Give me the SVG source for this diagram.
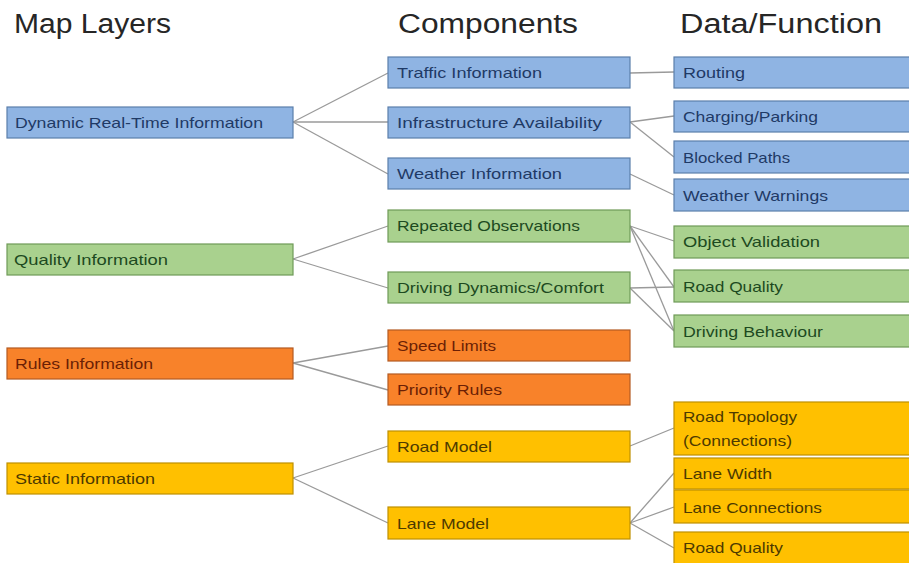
<svg xmlns="http://www.w3.org/2000/svg" width="909" height="563" viewBox="0 0 909 563">
  <style>
    .title { font-family: "Liberation Sans", Arial, sans-serif; font-size: 27px; fill: #262626; }
    .lbl { font-family: "Liberation Sans", Arial, sans-serif; font-size: 15px; }
    .blue rect { fill: #8fb4e3; stroke: #5b7fab; stroke-width: 1.2; }
    .blue text { fill: #1f3a66; }
    .green rect { fill: #a9d18e; stroke: #6f9a57; stroke-width: 1.2; }
    .green text { fill: #1d4a1f; }
    .orange rect { fill: #f8822a; stroke: #b45a22; stroke-width: 1.2; }
    .orange text { fill: #6b1f05; }
    .yellow rect { fill: #ffc000; stroke: #bf9000; stroke-width: 1.2; }
    .yellow text { fill: #4d3a00; }
    #connectors line { stroke: #9a9a9a; stroke-width: 1.3; }
  </style>

  <rect width="909" height="563" fill="#ffffff"/>

  <!-- column headings -->
  <text class="title" x="14" y="33" textLength="157" lengthAdjust="spacingAndGlyphs">Map Layers</text>
  <text class="title" x="398" y="33" textLength="180" lengthAdjust="spacingAndGlyphs">Components</text>
  <text class="title" x="680" y="33" textLength="202" lengthAdjust="spacingAndGlyphs">Data/Function</text>

  <!-- connectors -->
  <g id="connectors">
    <line x1="293" y1="122" x2="388" y2="73"/>
    <line x1="293" y1="122" x2="388" y2="122"/>
    <line x1="293" y1="122" x2="388" y2="174"/>
    <line x1="630" y1="73" x2="674" y2="72"/>
    <line x1="630" y1="122" x2="674" y2="116"/>
    <line x1="630" y1="122" x2="674" y2="157"/>
    <line x1="630" y1="174" x2="674" y2="195"/>
    <line x1="293" y1="259" x2="388" y2="226"/>
    <line x1="293" y1="259" x2="388" y2="288"/>
    <line x1="630" y1="226" x2="674" y2="241"/>
    <line x1="630" y1="226" x2="674" y2="287"/>
    <line x1="630" y1="226" x2="674" y2="331"/>
    <line x1="630" y1="288" x2="674" y2="287"/>
    <line x1="630" y1="288" x2="674" y2="331"/>
    <line x1="293" y1="363" x2="388" y2="346"/>
    <line x1="293" y1="363" x2="388" y2="390"/>
    <line x1="293" y1="478" x2="388" y2="446"/>
    <line x1="293" y1="478" x2="388" y2="523"/>
    <line x1="630" y1="446" x2="674" y2="428"/>
    <line x1="630" y1="523" x2="674" y2="473"/>
    <line x1="630" y1="523" x2="674" y2="507"/>
    <line x1="630" y1="523" x2="674" y2="548"/>
  </g>

  <!-- map layers -->
  <g id="dynamic" class="blue">
    <rect x="7" y="107" width="286" height="31"/>
    <text class="lbl" x="15" y="128" textLength="248" lengthAdjust="spacingAndGlyphs">Dynamic Real-Time Information</text>
  </g>
  <g id="quality" class="green">
    <rect x="7" y="244" width="286" height="31"/>
    <text class="lbl" x="14" y="265" textLength="154" lengthAdjust="spacingAndGlyphs">Quality Information</text>
  </g>
  <g id="rules" class="orange">
    <rect x="7" y="348" width="286" height="31"/>
    <text class="lbl" x="15" y="369" textLength="138" lengthAdjust="spacingAndGlyphs">Rules Information</text>
  </g>
  <g id="static" class="yellow">
    <rect x="7" y="463" width="286" height="31"/>
    <text class="lbl" x="15" y="484" textLength="140" lengthAdjust="spacingAndGlyphs">Static Information</text>
  </g>

  <!-- components -->
  <g id="traffic" class="blue">
    <rect x="388" y="57" width="242" height="31"/>
    <text class="lbl" x="397" y="78" textLength="145" lengthAdjust="spacingAndGlyphs">Traffic Information</text>
  </g>
  <g id="infrastructure" class="blue">
    <rect x="388" y="107" width="242" height="31"/>
    <text class="lbl" x="397" y="128" textLength="205" lengthAdjust="spacingAndGlyphs">Infrastructure Availability</text>
  </g>
  <g id="weather" class="blue">
    <rect x="388" y="158" width="242" height="31"/>
    <text class="lbl" x="397" y="179" textLength="165" lengthAdjust="spacingAndGlyphs">Weather Information</text>
  </g>
  <g id="repeated" class="green">
    <rect x="388" y="210" width="242" height="32"/>
    <text class="lbl" x="397" y="231" textLength="183" lengthAdjust="spacingAndGlyphs">Repeated Observations</text>
  </g>
  <g id="dynamics" class="green">
    <rect x="388" y="272" width="242" height="31"/>
    <text class="lbl" x="397" y="293" textLength="207" lengthAdjust="spacingAndGlyphs">Driving Dynamics/Comfort</text>
  </g>
  <g id="speed" class="orange">
    <rect x="388" y="330" width="242" height="31"/>
    <text class="lbl" x="397" y="351" textLength="99" lengthAdjust="spacingAndGlyphs">Speed Limits</text>
  </g>
  <g id="priority" class="orange">
    <rect x="388" y="374" width="242" height="31"/>
    <text class="lbl" x="397" y="395" textLength="105" lengthAdjust="spacingAndGlyphs">Priority Rules</text>
  </g>
  <g id="road-model" class="yellow">
    <rect x="388" y="431" width="242" height="31"/>
    <text class="lbl" x="397" y="452" textLength="95" lengthAdjust="spacingAndGlyphs">Road Model</text>
  </g>
  <g id="lane-model" class="yellow">
    <rect x="388" y="507" width="242" height="32"/>
    <text class="lbl" x="397" y="529" textLength="92" lengthAdjust="spacingAndGlyphs">Lane Model</text>
  </g>

  <!-- data / function -->
  <g id="routing" class="blue">
    <rect x="674" y="57" width="245" height="31"/>
    <text class="lbl" x="683" y="78" textLength="62" lengthAdjust="spacingAndGlyphs">Routing</text>
  </g>
  <g id="charging" class="blue">
    <rect x="674" y="101" width="245" height="31"/>
    <text class="lbl" x="683" y="122" textLength="135" lengthAdjust="spacingAndGlyphs">Charging/Parking</text>
  </g>
  <g id="blocked" class="blue">
    <rect x="674" y="141" width="245" height="32"/>
    <text class="lbl" x="683" y="163" textLength="107" lengthAdjust="spacingAndGlyphs">Blocked Paths</text>
  </g>
  <g id="warnings" class="blue">
    <rect x="674" y="179" width="245" height="32"/>
    <text class="lbl" x="683" y="201" textLength="145" lengthAdjust="spacingAndGlyphs">Weather Warnings</text>
  </g>
  <g id="validation" class="green">
    <rect x="674" y="226" width="245" height="32"/>
    <text class="lbl" x="683" y="247" textLength="137" lengthAdjust="spacingAndGlyphs">Object Validation</text>
  </g>
  <g id="road-quality" class="green">
    <rect x="674" y="270" width="245" height="32"/>
    <text class="lbl" x="683" y="292" textLength="100" lengthAdjust="spacingAndGlyphs">Road Quality</text>
  </g>
  <g id="behaviour" class="green">
    <rect x="674" y="315" width="245" height="32"/>
    <text class="lbl" x="683" y="337" textLength="140" lengthAdjust="spacingAndGlyphs">Driving Behaviour</text>
  </g>
  <g id="topology" class="yellow">
    <rect x="674" y="402" width="245" height="53"/>
    <text class="lbl" x="683" y="422" textLength="114" lengthAdjust="spacingAndGlyphs">Road Topology</text>
    <text class="lbl" x="683" y="446" textLength="109" lengthAdjust="spacingAndGlyphs">(Connections)</text>
  </g>
  <g id="lane-width" class="yellow">
    <rect x="674" y="458" width="245" height="31"/>
    <text class="lbl" x="683" y="479" textLength="89" lengthAdjust="spacingAndGlyphs">Lane Width</text>
  </g>
  <g id="lane-connections" class="yellow">
    <rect x="674" y="490" width="245" height="33"/>
    <text class="lbl" x="683" y="513" textLength="139" lengthAdjust="spacingAndGlyphs">Lane Connections</text>
  </g>
  <g id="static-road-quality" class="yellow">
    <rect x="674" y="532" width="245" height="40"/>
    <text class="lbl" x="683" y="553" textLength="100" lengthAdjust="spacingAndGlyphs">Road Quality</text>
  </g>
</svg>
